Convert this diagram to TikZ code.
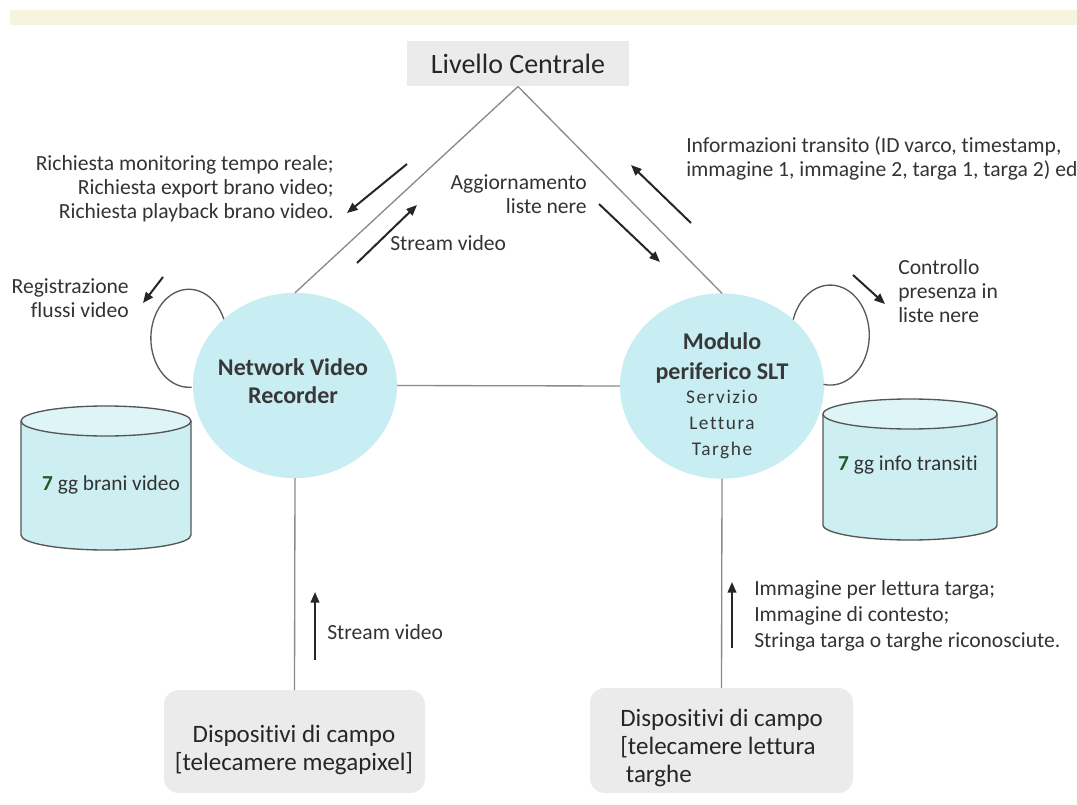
\documentclass[tikz,border=0pt]{standalone}
\usepackage{fontspec}
\setmainfont{Carlito}[Ligatures=NoCommon]
\newfontfamily\spacedfont{Carlito}[LetterSpace=8,Ligatures=NoCommon]
\usetikzlibrary{shapes.geometric,arrows.meta}
\definecolor{cyanfill}{HTML}{C8EEF3}
\definecolor{cylfill}{HTML}{CDEFF2}
\definecolor{cyltop}{HTML}{DDF5F7}
\definecolor{boxgray}{HTML}{EBEBEB}
\definecolor{bandcol}{HTML}{F6F3DF}
\definecolor{linegray}{HTML}{8A8A8A}
\definecolor{cylline}{HTML}{555555}
\definecolor{txt}{HTML}{333333}
\definecolor{seven}{HTML}{1E5A2A}
\begin{document}
\begin{tikzpicture}[x=0.75pt,y=-0.75pt,
  conn/.style={draw=linegray,line width=1pt},
  arr/.style={draw=black!85,line width=1.5pt,-{Triangle[length=8pt,width=6.5pt]}},
  loopline/.style={draw=black!65,line width=1pt},
  cylstyle/.style={draw=cylline,line width=1pt},
  lbl/.style={text=txt,font=\fontsize{16.2}{18}\selectfont,inner sep=0pt},
  circ/.style={ellipse,fill=cyanfill,minimum width=153pt,minimum height=139pt,inner sep=0pt,outer sep=0pt},
  circtext/.style={text=black!78,align=center,inner sep=0pt},
  devbox/.style={rectangle,rounded corners=11pt,fill=boxgray,inner sep=0pt,outer sep=0pt},
  devtext/.style={text=black!85,font=\fontsize{18.75}{21}\selectfont,inner sep=0pt},
]
\useasboundingbox (0,0) rectangle (1077,805);
% top band
\fill[bandcol] (10,10) rectangle (1077,25);

% central box
\node[rectangle,fill=boxgray,minimum width=166.5pt,minimum height=33.75pt,inner sep=0pt,outer sep=0pt,
      font=\fontsize{21}{24}\selectfont,text=black!85] (lc) at (518,64) {Livello Centrale};

% circles
\node[circ] (nvr) at (295,385.5) {};
\node[circ] (mod) at (722,386) {};
\node[circtext,font=\fontsize{18}{21}\selectfont\bfseries] (nvrt) at (293,381) {Network Video\\Recorder};
\node[circtext,font=\fontsize{18}{22.5}\selectfont\bfseries] (modt1) at (722,358) {Modulo\\periferico SLT};
\node[circtext,font=\fontsize{14.5}{19.5}\selectfont\spacedfont] (modt2) at (722,425) {Servizio\\Lettura\\Targhe};

% device boxes
\node[devbox,minimum width=195.75pt,minimum height=77.25pt] (dev1) at (294.5,741.5) {};
\node[devtext,align=center] (dev1t) at (294,750) {Dispositivi di campo\\{[}telecamere megapixel{]}};
\node[devbox,minimum width=197.25pt,minimum height=78.75pt] (dev2) at (721.5,740.5) {};
\node[devtext,align=left,anchor=west] (dev2t) at (620,748) {Dispositivi di campo\\{[}telecamere lettura\\\ targhe};

% connectors
\draw[conn] (lc.south) -- (nvr.north);
\draw[conn] (lc.south) -- (mod.north);
\draw[conn] (nvr.east) -- (mod.west);
\draw[conn] (nvr.south) -- (dev1.north);
\draw[conn] (mod.south) -- (dev2.north);

% self loops
\draw[loopline] (nvr.137) arc[start angle=-23,end angle=-274,x radius=38,y radius=49];
\draw[loopline] (mod.43) arc[start angle=198,end angle=460,x radius=39,y radius=50];

% cylinders
\fill[cylfill] (21,421) -- (21,535) arc[start angle=180,end angle=0,x radius=85,y radius=15] -- (191,421) -- cycle;
\draw[cylstyle] (21,421) -- (21,535) arc[start angle=180,end angle=0,x radius=85,y radius=15] -- (191,421);
\draw[cylstyle,fill=cyltop] (106,421) ellipse[x radius=85,y radius=15];
\node[lbl,font=\fontsize{16}{19}\selectfont] (cyl1t) at (111,485) {\textcolor{seven}{\textbf{7}} gg brani video};

\fill[cylfill] (823,414) -- (823,525) arc[start angle=180,end angle=0,x radius=87,y radius=15] -- (997,414) -- cycle;
\draw[cylstyle] (823,414) -- (823,525) arc[start angle=180,end angle=0,x radius=87,y radius=15] -- (997,414);
\draw[cylstyle,fill=cyltop] (910,414) ellipse[x radius=87,y radius=15];
\node[lbl,font=\fontsize{16}{19}\selectfont] (cyl2t) at (908,465) {\textcolor{seven}{\textbf{7}} gg info transiti};

% arrow end points
\coordinate (a1s) at (407,164); \coordinate (a1e) at (347,213);
\coordinate (a2s) at (357,263); \coordinate (a2e) at (417,205);
\coordinate (a3s) at (599,204); \coordinate (a3e) at (660,262);
\coordinate (a4s) at (691,223); \coordinate (a4e) at (631,165);
\coordinate (a5s) at (163,277); \coordinate (a5e) at (143,303);
\coordinate (a6s) at (853,275); \coordinate (a6e) at (885,304);
\coordinate (a7s) at (315,660); \coordinate (a7e) at (315,592);
\coordinate (a8s) at (732,648); \coordinate (a8e) at (732,582);
\draw[arr] (a1s) -- (a1e);
\draw[arr] (a2s) -- (a2e);
\draw[arr] (a3s) -- (a3e);
\draw[arr] (a4s) -- (a4e);
\draw[arr] (a5s) -- (a5e);
\draw[arr] (a6s) -- (a6e);
\draw[arr] (a7s) -- (a7e);
\draw[arr] (a8s) -- (a8e);

% labels
\node[lbl,align=right,anchor=east] (t1) at (334,189) {Richiesta monitoring tempo reale;\\Richiesta export brano video;\\Richiesta playback brano video.};
\node[lbl,anchor=west] (t2) at (390,243) {Stream video};
\node[lbl,align=right,anchor=east] (t3) at (587,194) {Aggiornamento\\liste nere};
\node[lbl,align=left,anchor=west] (t4) at (686,158) {Informazioni transito (ID varco, timestamp,\\immagine 1, immagine 2, targa 1, targa 2) ed};
\node[lbl,align=right,anchor=east] (t5) at (129,298) {Registrazione\\flussi video};
\node[lbl,align=left,anchor=west] (t6) at (898,291) {Controllo\\presenza in\\liste nere};
\node[lbl,anchor=west] (t7) at (327,632) {Stream video};
\node[lbl,align=left,anchor=west,font=\fontsize{16.2}{19.5}\selectfont] (t8) at (754,616) {Immagine per lettura targa;\\Immagine di contesto;\\Stringa targa o targhe riconosciute.};
\end{tikzpicture}
\end{document}
